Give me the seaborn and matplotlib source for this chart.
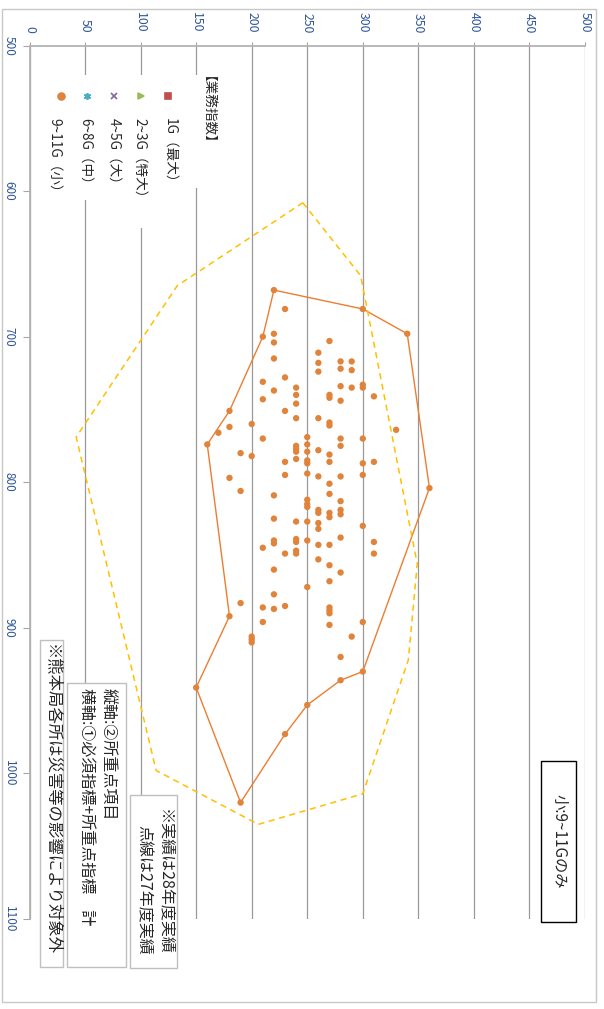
import matplotlib.pyplot as plt
import pandas as pd
import seaborn as sns
from matplotlib.patches import Rectangle

# chart is shown turned 90 deg clockwise:
# 縦軸 (②所重点項目) runs left->right, 横軸 (①必須指標+所重点指標 計) runs top->bottom
pt_y = [170,
        180, 180,
        190, 190, 190,
        200, 200, 200, 200, 200,
        210, 210, 210, 210, 210, 210,
        220, 220, 220, 220, 220, 220, 220, 220, 220, 220, 220,
        230, 230, 230, 230, 230, 230, 230,
        240, 240, 240, 240, 240, 240, 240, 240, 240, 240, 240, 240, 240,
        250, 250, 250, 250, 250, 250, 250, 250, 250, 250, 250, 250,
        260, 260, 260, 260, 260, 260, 260, 260, 260, 260, 260, 260,
        270, 270, 270, 270, 270, 270, 270, 270, 270, 270, 270, 270, 270, 270, 270, 270, 270, 270,
        280, 280, 280, 280, 280, 280, 280, 280, 280, 280, 280, 280, 280,
        290, 290, 290, 290,
        300, 300, 300, 300, 300, 300, 300,
        310, 310, 310, 310,
        330]
pt_x = [766,
        762, 797,
        780, 806, 883,
        760, 782, 906, 908, 910,
        731, 743, 770, 845, 886, 896,
        698, 704, 715, 737, 809, 825, 840, 842, 860, 877, 887,
        681, 728, 751, 786, 795, 849, 885,
        735, 740, 746, 756, 775, 777, 779, 784, 827, 839, 841, 847, 849,
        769, 774, 779, 785, 787, 794, 812, 815, 817, 827, 840, 872,
        711, 718, 724, 756, 778, 796, 819, 821, 828, 832, 843, 853,
        703, 740, 742, 759, 761, 781, 786, 801, 808, 821, 824, 843, 857, 868, 886, 888, 890, 898,
        717, 722, 734, 744, 770, 775, 796, 813, 819, 822, 838, 862, 920,
        717, 723, 735, 906,
        733, 735, 770, 787, 795, 830, 896,
        741, 786, 841, 849,
        764]

# outline of 28年度 (solid) and 27年度 (dotted)
hull28_y = [220, 300, 340, 360, 300, 280, 250, 230, 190, 150, 180, 160, 180, 210]
hull28_x = [668, 681, 698, 804, 930, 936, 953, 973, 1020, 941, 892, 774, 751, 700]
hull27_y = [246, 298, 349, 341, 300, 206, 114, 42, 133]
hull27_x = [608, 658, 856, 922, 1014, 1035, 998, 769, 665]

legend_labels = ['1G（最大）', '2~3G（特大）', '4~5G（大）', '6~8G（中）', '9~11G（小）']
legend_colors = ['#C0504D', '#9BBB59', '#8064A2', '#4BACC6', '#E0843C']
legend_markers = ['s', '>', 'x', (6, 2, 0), 'o']

y_ticks = list(range(0, 501, 50))
x_ticks = list(range(500, 1101, 100))

sns.set_style('white')
plt.rcParams['font.family'] = ['Noto Sans CJK JP', 'DejaVu Sans']

W, H = 604, 1009
fig = plt.figure(figsize=(W / 100, H / 100), dpi=100)
left, right, top, bottom = 29.5, 585, 45.5, 919
ax = fig.add_axes([left / W, 1 - bottom / H, (right - left) / W, (bottom - top) / H])

df = pd.DataFrame({'score2': pt_y + hull28_y, 'score1': pt_x + hull28_x})
sns.scatterplot(data=df, x='score2', y='score1', ax=ax, color='#E0843C',
                s=21, edgecolor='none', zorder=4, legend=False)
ax.plot(hull28_y + hull28_y[:1], hull28_x + hull28_x[:1], color='#ED7D31', lw=1.0, zorder=3)
ax.plot(hull27_y + hull27_y[:1], hull27_x + hull27_x[:1], color='#FFC000', lw=1.1,
        ls=(0, (4, 3)), zorder=3)

ax.set_xlim(0, 500)
ax.set_ylim(1100, 500)
ax.set_xticks(y_ticks)
ax.set_xticklabels([str(v) for v in y_ticks], rotation=270)
ax.set_yticks(x_ticks)
ax.set_yticklabels([str(v) for v in x_ticks], rotation=270)
for lbl in ax.get_yticklabels():
    lbl.set_va('center')
ax.xaxis.tick_top()
ax.set_xlabel('')
ax.set_ylabel('')
ax.xaxis.grid(True, color='#999999', lw=0.9)
ax.yaxis.grid(False)
tick_color = '#2F5597'
ax.tick_params(axis='x', top=True, length=3, pad=6, labelsize=8.8, color='#A6A6A6',
               labelcolor=tick_color)
ax.tick_params(axis='y', left=True, length=5, pad=5, labelsize=8.5, color='#A6A6A6',
               labelcolor=tick_color)
for side in ['right', 'bottom']:
    ax.spines[side].set_visible(False)
for side in ['left', 'top']:
    ax.spines[side].set_color('#B3B3B3')
    ax.spines[side].set_linewidth(1.3)

# overlay in pixel coordinates for frame, legend and notes
ov = fig.add_axes([0, 0, 1, 1], zorder=5)
ov.set_xlim(0, W)
ov.set_ylim(H, 0)
ov.axis('off')
ov.patch.set_alpha(0)

ov.add_patch(Rectangle((2, 9), 594, 993, fill=False, ec='#C8C8C8', lw=1))

# legend (rotated)
for x0, y0, x1, y1 in [(40, 75, 210, 188), (75, 188, 96, 200), (130, 188, 152, 228)]:
    ov.add_patch(Rectangle((x0, y0), x1 - x0, y1 - y0, fc='white', ec='none'))
ov.text(200, 76, '【業務指数】', rotation=270, ha='center', va='top', fontsize=9.8)
mk_x = [168, 141, 114, 87, 61]
lb_x = [170, 140, 114, 86, 55]
for i, lab in enumerate(legend_labels):
    ov.plot(mk_x[i], 96, marker=legend_markers[i], color=legend_colors[i], ms=5,
            mew=1.2, ls='none')
    ov.text(lb_x[i], 118, lab, rotation=270, ha='center', va='top', fontsize=9.8)

# note boxes
ov.add_patch(Rectangle((541, 761), 35, 161, fc='white', ec='black', lw=1))
ov.text(558.5, 841.5, '小:9~11Gのみ', rotation=270, ha='center', va='center', fontsize=11)

ov.add_patch(Rectangle((130, 795), 47, 173, fc='white', ec='#BFBFBF', lw=1))
ov.text(165, 955, '※実績は28年度実績', rotation=270, ha='center', va='bottom', fontsize=11.5)
ov.text(143, 955, '点線は27年度実績', rotation=270, ha='center', va='bottom', fontsize=11.5)

ov.add_patch(Rectangle((67, 683), 59, 284, fc='white', ec='#BFBFBF', lw=1))
ov.text(108, 688, '縦軸:②所重点項目', rotation=270, ha='center', va='top', fontsize=11.5)
ov.text(87, 688, '横軸:①必須指標+所重点指標　計', rotation=270, ha='center', va='top',
        fontsize=11.5)

ov.add_patch(Rectangle((40, 640), 23, 327, fc='white', ec='#BFBFBF', lw=1))
ov.text(52, 644, '※熊本局各所は災害等の影響により対象外', rotation=270, ha='center',
        va='top', fontsize=11.8)

fig.savefig('out.png', dpi=100)
